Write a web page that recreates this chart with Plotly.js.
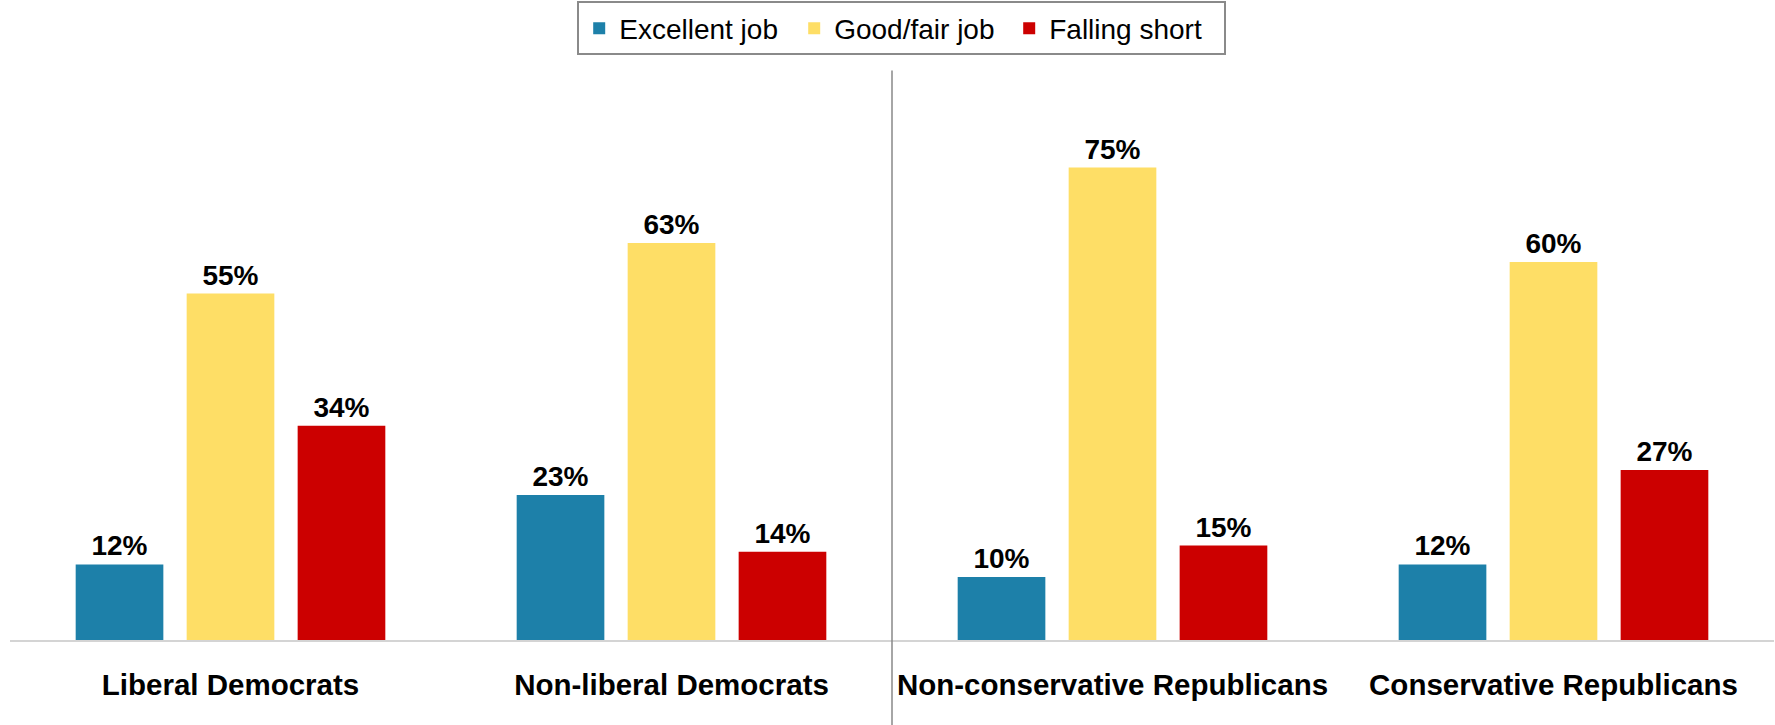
<!DOCTYPE html>
<html>
<head>
<meta charset="utf-8">
<script src="https://cdn.plot.ly/plotly-3.0.1.min.js"></script>
<style>html,body{margin:0;padding:0;background:#fff;}#chart{width:1775px;height:725px;}</style>
</head>
<body>
<div id="chart"></div>
<script>
const categories = ["Liberal Democrats", "Non-liberal Democrats", "Non-conservative Republicans", "Conservative Republicans"];
const excellent = [12, 23, 10, 12];
const goodFair = [55, 63, 75, 60];
const fallingShort = [34, 14, 15, 27];
const seriesNames = ["Excellent job", "Good/fair job", "Falling short"];
const colors = ["#1d80a9", "#fede66", "#cc0000"];

const font = "Liberation Sans, Arial, sans-serif";
const series = [excellent, goodFair, fallingShort];
const traces = series.map((vals, i) => ({
  type: "bar",
  name: seriesNames[i],
  x: categories,
  y: vals,
  marker: {color: colors[i]},
  text: vals.map(v => v + "%"),
  textposition: "outside",
  cliponaxis: false,
  textfont: {family: font, size: 28, color: "#000", weight: "bold"},
  hoverinfo: "skip"
}));

const layout = {
  width: 1775, height: 725,
  margin: {l: 10, r: 1, t: 136, b: 85},
  paper_bgcolor: "#fff", plot_bgcolor: "#fff",
  barmode: "group",
  bargap: 0.245,
  bargroupgap: 0.21,
  showlegend: true,
  legend: {
    orientation: "h",
    xref: "container", yref: "container",
    x: 0.508, xanchor: "center",
    y: 0.998, yanchor: "top",
    bordercolor: "#8a8a8a", borderwidth: 2,
    font: {family: font, size: 28, color: "#000"},
    traceorder: "normal",
    itemwidth: 30,
    entrywidth: 170
  },
  xaxis: {
    type: "category",
    showline: true, linecolor: "#d4d4d4", linewidth: 2,
    ticks: "outside", ticklen: 18, tickcolor: "rgba(0,0,0,0)",
    tickfont: {family: font, size: 29.5, color: "#000", weight: "bold"},
    showgrid: false, zeroline: false
  },
  yaxis: {
    range: [0, 80], visible: false, showgrid: false, zeroline: false
  },
  shapes: [{
    type: "line", xref: "x", yref: "paper",
    x0: 1.5, x1: 1.5, y0: -0.2, y1: 1.13,
    line: {color: "#888", width: 1.5}
  }]
};

Plotly.newPlot("chart", traces, layout, {displayModeBar: false, staticPlot: true});
</script>
</body>
</html>
